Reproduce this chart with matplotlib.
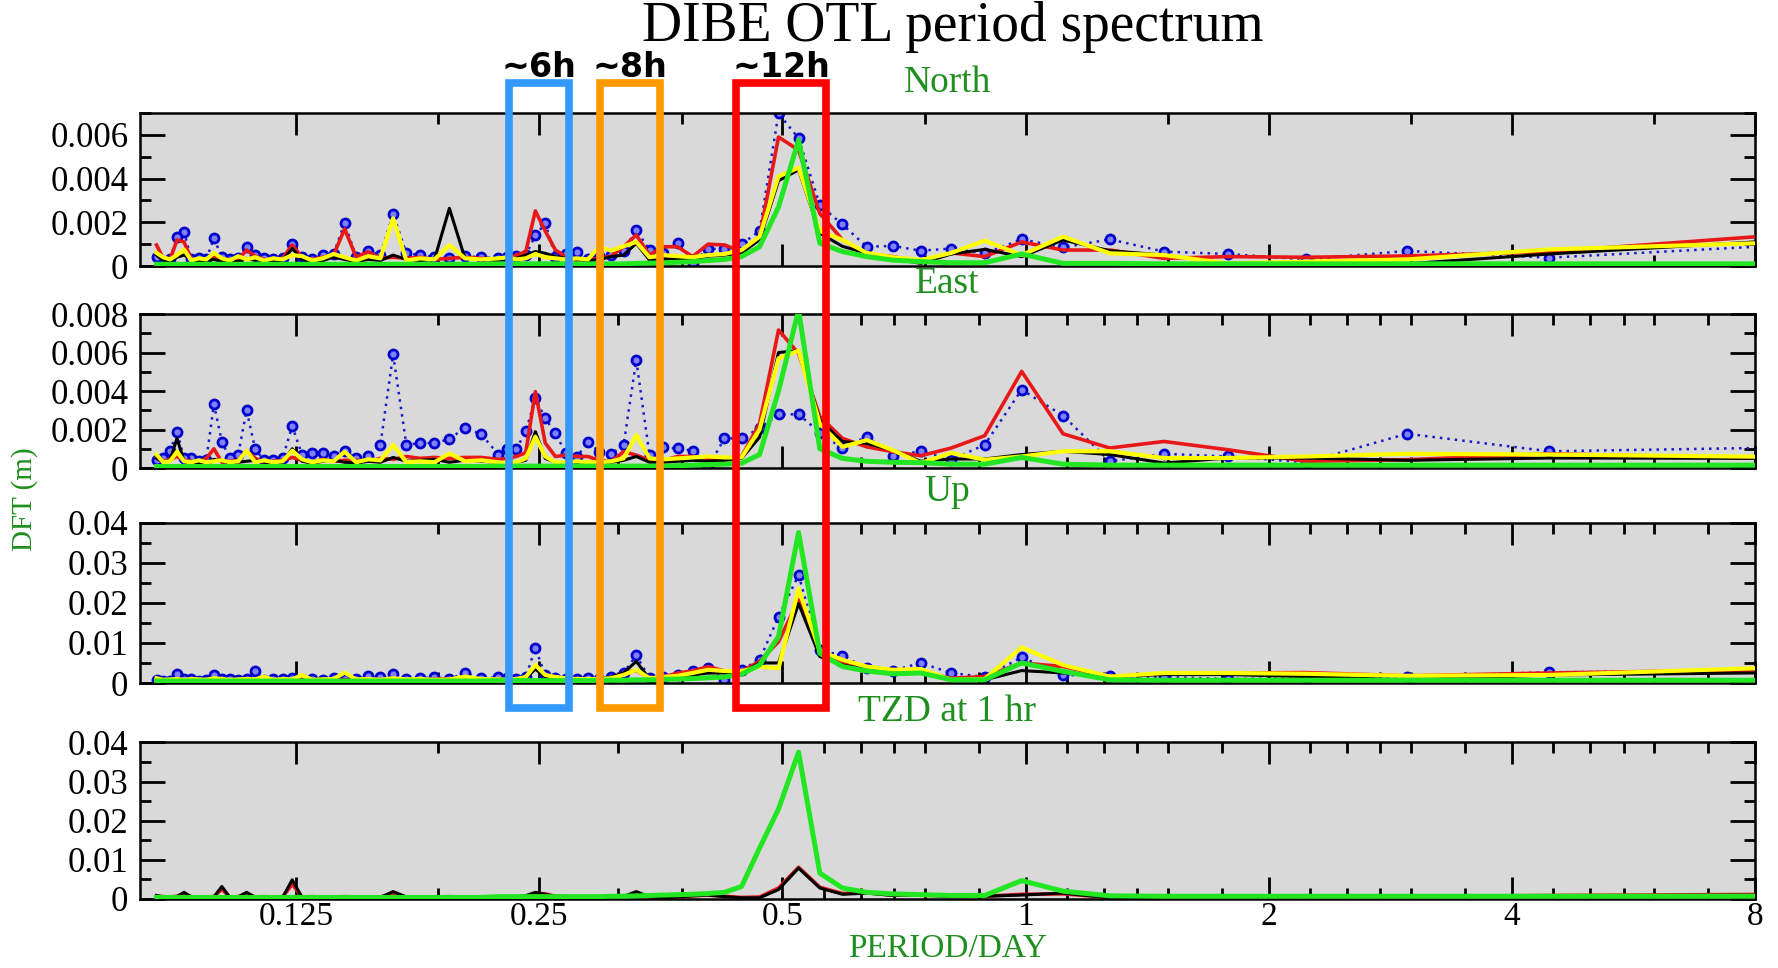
import numpy as np
import matplotlib
matplotlib.use("Agg")
import matplotlib.pyplot as plt
from matplotlib import transforms
from matplotlib.patches import Rectangle
from matplotlib.ticker import NullFormatter

# DFT harmonics of the ~8.9 day hourly record (all up to 40, then every 2nd one)
record_days = 8.9
harmonics = list(range(1, 41)) + list(range(42, 107, 2))

# spectrum amplitudes in mm (harmonic order, long period first)
north_blue = [
    0.97, 0.38, 0.69, 0.30, 0.55, 0.66, 1.22, 0.85, 1.22, 0.58,
    0.80, 0.70, 0.92, 0.88, 1.90, 2.79, 5.84, 6.98, 1.60, 1.00,
    0.76, 0.80, 0.12, 1.07, 0.60, 0.73, 1.65, 0.70, 0.50, 0.46,
    0.32, 0.66, 0.55, 0.43, 1.95, 1.40, 0.50, 0.45, 0.40, 0.35,
    0.40, 0.45, 0.35, 0.40, 0.50, 0.58, 2.38, 0.50, 0.70, 0.40,
    1.98, 0.55, 0.50, 0.30, 0.40, 1.00, 0.35, 0.30, 0.35, 0.50,
    0.88, 0.35, 0.30, 0.40, 1.27, 0.30, 0.35, 0.30, 1.57, 1.34,
    0.30, 0.25, 0.40]
north_red = [
    1.46, 0.65, 0.46, 0.40, 0.43, 0.35, 0.73, 0.73, 1.10, 0.43,
    0.60, 0.20, 0.43, 0.55, 1.20, 2.40, 5.30, 5.90, 1.34, 0.66,
    0.96, 1.00, 0.43, 0.88, 0.88, 0.50, 1.42, 0.88, 0.45, 0.35,
    0.30, 0.25, 0.43, 0.73, 1.60, 2.52, 0.65, 0.50, 0.35, 0.30,
    0.35, 0.40, 0.35, 0.30, 0.40, 0.35, 0.40, 0.35, 0.65, 0.40,
    1.70, 0.50, 0.40, 0.30, 0.40, 0.96, 0.35, 0.25, 0.30, 0.45,
    0.73, 0.30, 0.25, 0.35, 0.40, 0.30, 0.25, 0.30, 1.10, 1.19,
    0.30, 0.35, 0.96]
north_black = [
    1.20, 0.55, 0.10, 0.10, 0.12, 0.50, 0.70, 1.19, 0.43, 0.76,
    0.55, 0.12, 0.35, 0.58, 0.90, 1.50, 4.40, 3.90, 1.20, 0.60,
    0.50, 0.45, 0.30, 0.35, 0.30, 0.27, 1.04, 0.50, 0.43, 0.30,
    0.25, 0.30, 0.35, 0.43, 0.58, 0.66, 0.50, 0.35, 0.30, 0.25,
    0.30, 0.35, 2.64, 0.30, 0.25, 0.30, 0.50, 0.25, 0.30, 0.20,
    0.30, 0.40, 0.25, 0.20, 0.30, 0.80, 0.25, 0.20, 0.30, 0.25,
    0.35, 0.20, 0.25, 0.20, 0.30, 0.25, 0.20, 0.30, 0.50, 0.40,
    0.20, 0.25, 0.50]
north_yellow = [
    1.09, 0.76, 0.30, 0.20, 0.12, 0.50, 0.58, 1.34, 0.50, 1.16,
    0.60, 0.27, 0.40, 0.60, 1.20, 1.60, 4.50, 4.10, 1.34, 0.73,
    0.55, 0.50, 0.40, 0.45, 0.50, 0.40, 1.10, 0.90, 0.70, 0.88,
    0.30, 0.35, 0.30, 0.35, 0.40, 0.55, 0.35, 0.30, 0.40, 0.35,
    0.30, 0.35, 0.96, 0.30, 0.35, 0.25, 2.18, 0.35, 0.45, 0.25,
    0.40, 0.55, 0.35, 0.25, 0.45, 0.50, 0.30, 0.35, 0.25, 0.40,
    0.30, 0.45, 0.25, 0.35, 0.60, 0.30, 0.35, 0.25, 0.75, 0.50,
    0.30, 0.40, 0.60]
north_green = [
    0.10, 0.10, 0.10, 0.10, 0.10, 0.10, 0.12, 0.12, 0.55, 0.15,
    0.15, 0.20, 0.27, 0.43, 0.66, 1.04, 5.76, 2.70, 0.88, 0.43,
    0.30, 0.25, 0.20, 0.17, 0.15, 0.13, 0.12, 0.10, 0.10, 0.10,
    0.10, 0.10, 0.10, 0.10, 0.10, 0.10, 0.10, 0.10, 0.10, 0.10,
    0.08, 0.08, 0.08, 0.08, 0.08, 0.08, 0.08, 0.08, 0.08, 0.08,
    0.08, 0.08, 0.08, 0.08, 0.08, 0.08, 0.08, 0.08, 0.08, 0.08,
    0.08, 0.08, 0.08, 0.08, 0.08, 0.08, 0.08, 0.08, 0.08, 0.08,
    0.08, 0.08, 0.08]

east_blue = [
    1.07, 0.87, 1.78, 0.30, 0.60, 0.74, 0.35, 2.72, 4.07, 1.21,
    0.43, 0.87, 0.64, 1.63, 1.02, 1.84, 2.79, 2.79, 2.06, 1.54,
    1.54, 0.05, 0.90, 1.02, 1.07, 0.67, 5.61, 1.18, 0.73, 0.85,
    1.37, 0.55, 0.76, 1.80, 2.58, 3.62, 1.90, 1.00, 1.00, 0.70,
    1.75, 2.10, 1.50, 1.30, 1.30, 1.20, 5.90, 1.20, 0.62, 0.50,
    0.88, 0.60, 0.80, 0.80, 0.68, 2.18, 0.50, 0.40, 0.40, 0.97,
    3.00, 0.68, 0.50, 1.37, 3.31, 0.40, 0.35, 0.50, 0.50, 1.89,
    0.88, 0.54, 0.40]
east_red = [
    0.48, 0.74, 0.43, 0.35, 0.95, 1.38, 1.04, 1.78, 5.02, 1.68,
    1.04, 0.64, 0.85, 1.10, 1.54, 2.67, 5.95, 7.17, 2.30, 0.60,
    0.40, 0.50, 0.60, 0.60, 0.40, 0.40, 0.67, 0.85, 0.33, 0.40,
    0.60, 0.60, 0.67, 0.60, 1.30, 3.97, 0.80, 0.60, 0.50, 0.45,
    0.55, 0.55, 0.50, 0.55, 0.50, 0.60, 0.45, 0.50, 0.35, 0.40,
    0.40, 0.35, 0.45, 0.30, 0.40, 0.55, 0.40, 0.35, 0.30, 0.50,
    0.90, 0.40, 0.35, 0.30, 1.00, 0.50, 0.30, 0.35, 0.40, 0.60,
    0.45, 0.35, 0.60]
east_black = [
    0.50, 0.52, 0.40, 0.52, 0.52, 0.26, 0.70, 0.87, 0.70, 0.47,
    0.47, 0.35, 0.93, 1.28, 1.37, 2.50, 6.10, 6.00, 1.60, 0.50,
    0.40, 0.35, 0.40, 0.35, 0.30, 0.30, 0.60, 0.40, 0.30, 0.35,
    0.30, 0.30, 0.25, 0.30, 0.50, 1.89, 0.40, 0.30, 0.25, 0.30,
    0.35, 0.40, 0.30, 0.45, 0.40, 0.35, 0.55, 0.30, 0.35, 0.25,
    0.30, 0.40, 0.35, 0.25, 0.35, 1.00, 0.30, 0.25, 0.30, 0.40,
    0.35, 0.30, 0.25, 0.35, 0.45, 0.30, 0.25, 0.30, 0.35, 1.54,
    0.40, 0.30, 0.50]
east_yellow = [
    0.57, 0.70, 0.74, 0.60, 0.52, 0.52, 0.87, 0.87, 0.60, 0.43,
    0.78, 0.26, 0.93, 1.45, 1.10, 2.30, 6.10, 5.70, 2.00, 0.55,
    0.55, 0.60, 0.55, 0.50, 0.45, 0.50, 1.71, 0.50, 0.35, 0.30,
    0.30, 0.35, 0.30, 0.30, 0.60, 1.63, 0.50, 0.30, 0.25, 0.30,
    0.40, 0.35, 0.76, 0.30, 0.35, 0.30, 1.20, 0.40, 0.45, 0.30,
    0.85, 0.35, 0.40, 0.30, 0.45, 0.90, 0.35, 0.30, 0.40, 0.30,
    0.90, 0.35, 0.30, 0.40, 0.35, 0.30, 0.40, 0.30, 0.35, 0.85,
    0.35, 0.30, 0.70]
east_green = [
    0.15, 0.15, 0.15, 0.15, 0.15, 0.15, 0.15, 0.20, 0.55, 0.20,
    0.20, 0.28, 0.30, 0.35, 0.50, 1.00, 8.20, 4.00, 0.70, 0.25,
    0.20, 0.18, 0.15, 0.12, 0.10, 0.10, 0.10, 0.10, 0.10, 0.10,
    0.10, 0.10, 0.10, 0.10, 0.10, 0.10, 0.10, 0.10, 0.10, 0.10,
    0.08, 0.08, 0.08, 0.08, 0.08, 0.08, 0.08, 0.08, 0.08, 0.08,
    0.08, 0.08, 0.08, 0.08, 0.08, 0.08, 0.08, 0.08, 0.08, 0.08,
    0.08, 0.08, 0.08, 0.08, 0.08, 0.08, 0.08, 0.08, 0.08, 0.08,
    0.08, 0.08, 0.08]

up_blue = [
    3.0, 2.7, 1.5, 1.2, 1.0, 1.5, 1.8, 2.0, 6.4, 1.5,
    2.5, 5.0, 3.1, 3.7, 6.8, 8.3, 26.9, 16.5, 5.8, 3.3,
    0.8, 3.7, 2.9, 2.0, 1.5, 1.2, 6.9, 2.5, 1.5, 1.0,
    1.2, 1.0, 1.0, 1.2, 2.0, 8.7, 1.5, 1.0, 1.2, 1.4,
    1.2, 2.5, 1.0, 1.4, 1.2, 1.0, 2.2, 1.4, 1.65, 1.0,
    1.0, 1.2, 0.8, 1.0, 0.9, 1.2, 0.9, 1.0, 0.8, 2.9,
    1.0, 0.8, 1.0, 1.0, 1.9, 0.8, 0.6, 0.9, 1.0, 2.3,
    0.5, 0.6, 0.8]
up_red = [
    3.4, 2.5, 1.8, 2.6, 2.5, 2.3, 1.6, 4.1, 5.0, 1.6,
    1.2, 2.9, 2.9, 3.7, 5.1, 7.4, 20.7, 10.3, 5.4, 2.9,
    3.0, 4.1, 3.0, 2.5, 1.5, 1.2, 3.1, 2.5, 1.2, 1.0,
    1.0, 1.0, 1.2, 1.5, 2.0, 4.1, 1.5, 1.0, 0.8, 0.9,
    0.9, 0.8, 1.0, 0.9, 0.8, 0.7, 0.9, 0.8, 0.9, 0.7,
    0.8, 0.7, 0.9, 0.6, 0.8, 0.9, 0.6, 0.7, 0.8, 0.9,
    0.7, 0.6, 0.8, 0.7, 0.9, 0.6, 0.7, 0.6, 0.8, 0.9,
    0.6, 0.7, 0.8]
up_black = [
    2.6, 2.0, 0.8, 1.6, 2.1, 2.1, 1.6, 2.5, 3.1, 0.8,
    0.8, 2.5, 2.5, 3.3, 4.5, 6.6, 19.8, 5.0, 5.0, 2.5,
    2.5, 2.5, 2.0, 1.5, 1.2, 1.0, 5.4, 2.5, 1.5, 1.0,
    0.9, 0.8, 1.0, 1.2, 1.5, 3.5, 1.2, 0.8, 0.7, 0.8,
    0.7, 0.8, 0.9, 0.7, 0.8, 0.7, 0.8, 0.7, 0.6, 0.7,
    0.7, 0.6, 0.8, 0.7, 0.6, 0.8, 0.7, 0.6, 0.7, 0.8,
    0.6, 0.7, 0.6, 0.7, 0.8, 0.6, 0.7, 0.6, 0.7, 0.8,
    0.6, 0.7, 0.6]
up_yellow = [
    4.0, 2.0, 1.8, 2.3, 2.5, 2.5, 1.6, 4.5, 8.9, 1.0,
    0.8, 3.5, 3.3, 4.1, 5.8, 7.9, 23.5, 3.7, 4.1, 2.9,
    3.0, 3.3, 2.5, 1.8, 1.5, 1.2, 3.3, 2.0, 1.2, 1.0,
    1.0, 1.0, 1.2, 1.5, 2.0, 4.5, 1.5, 1.0, 0.8, 0.9,
    1.0, 1.6, 0.9, 0.8, 1.0, 0.9, 1.2, 0.8, 1.0, 0.9,
    2.6, 1.0, 0.9, 0.8, 2.0, 0.9, 1.0, 0.8, 1.6, 0.9,
    1.0, 0.9, 0.8, 1.0, 1.2, 0.8, 0.9, 1.0, 0.8, 1.0,
    0.9, 0.8, 1.2]
up_green = [
    0.7, 0.7, 0.7, 0.7, 0.7, 0.7, 0.8, 2.9, 5.0, 0.8,
    0.8, 2.5, 2.3, 3.0, 4.1, 7.4, 37.5, 11.6, 4.5, 2.2,
    1.5, 1.3, 1.1, 1.0, 0.9, 0.8, 0.8, 0.7, 0.7, 0.7,
    0.6, 0.6, 0.6, 0.6, 0.6, 0.6, 0.6, 0.6, 0.6, 0.6,
    0.5, 0.5, 0.5, 0.5, 0.5, 0.5, 0.5, 0.5, 0.5, 0.5,
    0.5, 0.5, 0.5, 0.5, 0.5, 0.5, 0.5, 0.5, 0.5, 0.5,
    0.5, 0.5, 0.5, 0.5, 0.5, 0.5, 0.5, 0.5, 0.5, 0.5,
    0.5, 0.5, 0.5]

tzd_red = [
    1.2, 0.9, 0.6, 0.6, 0.8, 0.6, 0.4, 1.3, 1.2, 0.7,
    0.7, 1.0, 1.0, 1.6, 1.4, 3.0, 8.1, 2.8, 0.5, 0.4,
    0.7, 1.0, 0.8, 0.5, 0.4, 0.5, 1.4, 0.6, 0.4, 0.4,
    0.5, 0.4, 0.6, 0.7, 1.3, 1.5, 0.8, 0.5, 0.4, 0.4,
    0.5, 0.4, 0.6, 0.5, 0.4, 0.5, 1.5, 0.5, 0.4, 0.5,
    0.6, 0.5, 0.4, 0.6, 0.5, 3.8, 0.5, 0.4, 0.6, 0.5,
    1.4, 0.6, 0.5, 2.5, 0.6, 0.5, 0.4, 0.6, 1.4, 0.7,
    0.5, 0.6, 0.8]
tzd_black = [
    1.0, 0.8, 0.5, 0.5, 0.5, 0.5, 0.3, 1.5, 1.0, 0.7,
    0.6, 1.1, 0.9, 1.5, 1.2, 2.8, 7.9, 2.4, 0.3, 0.3,
    0.6, 1.0, 0.8, 0.5, 0.3, 0.5, 1.9, 0.6, 0.4, 0.3,
    0.4, 0.3, 0.5, 0.6, 1.2, 1.7, 0.8, 0.4, 0.3, 0.3,
    0.4, 0.3, 0.5, 0.4, 0.3, 0.5, 1.9, 0.4, 0.3, 0.4,
    0.5, 0.4, 0.3, 0.5, 0.4, 4.9, 0.4, 0.3, 0.5, 0.4,
    1.7, 0.5, 0.4, 3.2, 0.5, 0.4, 0.3, 0.5, 1.7, 0.6,
    0.4, 0.5, 0.9]
tzd_green = [
    0.7, 0.7, 0.7, 0.7, 0.7, 0.7, 0.8, 2.0, 4.7, 0.9,
    0.9, 1.1, 1.3, 1.7, 2.8, 6.6, 37.5, 23.0, 13.0, 3.2,
    1.7, 1.4, 1.2, 1.1, 1.0, 0.9, 0.8, 0.7, 0.7, 0.6,
    0.6, 0.6, 0.6, 0.6, 0.6, 0.6, 0.6, 0.6, 0.6, 0.6,
    0.4, 0.4, 0.4, 0.4, 0.4, 0.4, 0.4, 0.4, 0.4, 0.4,
    0.4, 0.4, 0.4, 0.4, 0.4, 0.4, 0.4, 0.4, 0.4, 0.4,
    0.4, 0.4, 0.4, 0.4, 0.4, 0.4, 0.4, 0.4, 0.4, 0.4,
    0.4, 0.4, 0.4]

panel_names = ["North", "East", "Up", "TZD at 1 hr"]
north_yticks = [0, 0.002, 0.004, 0.006]
east_yticks = [0, 0.002, 0.004, 0.006, 0.008]
up_yticks = [0, 0.01, 0.02, 0.03, 0.04]
tzd_yticks = [0, 0.01, 0.02, 0.03, 0.04]

period_ticks = [0.125, 0.25, 0.5, 1, 2, 4, 8]
period_labels = ["0.125", "0.25", "0.5", "1", "2", "4", "8"]
north_minor = [0.1875, 0.375, 0.75, 1.5, 3, 6]
other_minor = [0.1875, 0.3125, 0.375, 0.5625, 0.625, 0.6875, 0.75, 0.875,
               1.125, 1.25, 1.375, 1.5, 1.75, 2.25, 2.5, 2.75, 3, 3.5,
               4.5, 5, 5.5, 6, 7]

window_labels = ["~6h", "~8h", "~12h"]
window_lo = [0.2295, 0.2969, 0.4375]
window_hi = [0.2722, 0.3528, 0.5668]
window_colors = ["#3399ff", "#ff9900", "#ff0000"]

plt.rcParams['font.family'] = ['Liberation Serif', 'DejaVu Serif']
label_green = "#1f8f1f"

styles = {
    "blue": dict(color="#1a1acc", lw=1.8, ls=(0, (1, 2)), marker="o", ms=6.5,
                 mfc="#8080ff", mec="#0000cc", mew=2.0, zorder=2),
    "red": dict(color="#e81818", lw=2.6, zorder=3),
    "black": dict(color="black", lw=2.2, zorder=4),
    "yellow": dict(color="#ffff00", lw=3.0, zorder=5),
    "green": dict(color="#22e622", lw=3.6, zorder=6),
}

period = record_days / np.array(harmonics)

fig = plt.figure(figsize=(17.78, 9.68), dpi=100)

left, width = 0.0785, 0.9086
boxes = [(0.7252, 0.1581), (0.5165, 0.1591), (0.2944, 0.1658), (0.0713, 0.1617)]
panels = [
    ([("blue", north_blue), ("red", north_red), ("black", north_black),
      ("yellow", north_yellow), ("green", north_green)], north_yticks, 0.007, 0.001, north_minor),
    ([("blue", east_blue), ("red", east_red), ("black", east_black),
      ("yellow", east_yellow), ("green", east_green)], east_yticks, 0.008, 0.001, other_minor),
    ([("blue", up_blue), ("red", up_red), ("black", up_black),
      ("yellow", up_yellow), ("green", up_green)], up_yticks, 0.04, 0.005, other_minor),
    ([("red", tzd_red), ("black", tzd_black), ("green", tzd_green)],
     tzd_yticks, 0.04, 0.005, other_minor),
]

axes = []
for i, (series, yticks, ytop, ystep, xminor) in enumerate(panels):
    bottom, height = boxes[i]
    ax = fig.add_axes([left, bottom, width, height])
    ax.set_facecolor("#d9d9d9")
    for name, vals in series:
        ax.plot(period, np.array(vals) * 1e-3, **styles[name])
    ax.set_xscale("log", base=2)
    ax.set_xlim(0.08, 8)
    ax.set_ylim(0, ytop)
    ax.set_xticks(period_ticks)
    ax.set_xticks(xminor, minor=True)
    ax.xaxis.set_minor_formatter(NullFormatter())
    if i == 3:
        ax.set_xticklabels(period_labels)
    else:
        ax.set_xticklabels([])
    ax.set_yticks(yticks)
    ax.set_yticklabels(["0"] + [f"{v:g}" for v in yticks[1:]])
    ax.set_yticks(np.arange(ystep, ytop + 1e-9, ystep * 2), minor=True)
    ax.tick_params(axis="x", which="major", direction="in", length=16, width=2,
                   top=True, bottom=True, pad=2, labelsize=24)
    ax.tick_params(axis="x", which="minor", direction="in", length=8, width=2,
                   top=True, bottom=True)
    ax.tick_params(axis="y", which="major", direction="in", length=18, width=2,
                   left=True, right=True, pad=8, labelsize=25)
    ax.tick_params(axis="y", which="minor", direction="in", length=8, width=2,
                   left=True, right=True)
    for sp in ax.spines.values():
        sp.set_linewidth(1.8)
    ax.annotate(panel_names[i], xy=(0.5, 1), xycoords="axes fraction",
                xytext=(0, 22), textcoords="offset points", ha="center",
                va="center", color=label_green, fontsize=27)
    axes.append(ax)

axes[3].annotate("PERIOD/DAY", xy=(0.5, 0), xycoords="axes fraction",
                 xytext=(0, -36), textcoords="offset points", ha="center",
                 va="center", color=label_green, fontsize=24)
fig.text(0.014, 0.4845, "DFT (m)", rotation=90, ha="center", va="center",
         color=label_green, fontsize=21)
fig.text(0.536, 0.972, "DIBE OTL period spectrum", ha="center", va="center",
         fontsize=40)

# highlighted tidal bands, x in period units, y in figure units
blend = transforms.blended_transform_factory(axes[0].transData, fig.transFigure)
y_lo, y_hi = 0.2683, 0.914
for lab, lo, hi, col in zip(window_labels, window_lo, window_hi, window_colors):
    fig.add_artist(Rectangle((lo, y_lo), hi - lo, y_hi - y_lo, transform=blend,
                             fill=False, ec=col, lw=5.5, zorder=5, clip_on=False))
    fig.text(np.sqrt(lo * hi), 0.930, lab, transform=blend, ha="center",
             va="center", fontsize=24, fontweight="bold", family="DejaVu Sans")

fig.savefig("out.png", dpi=100)
